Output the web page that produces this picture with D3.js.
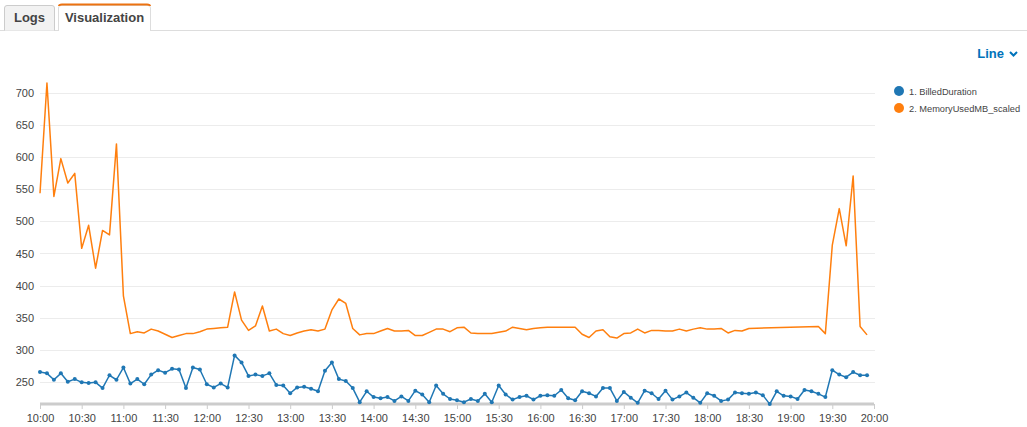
<!DOCTYPE html>
<html>
  <head>
    <meta charset="utf-8">
    <style>
      body { margin: 0; background: #fff; }
      svg text { font-family: "Liberation Sans", Arial, sans-serif; }
      .grid line { stroke: #ececec; stroke-width: 1px; }
      .yaxis text, .xaxis text { fill: #444; font-size: 11px; }
      .legend text { fill: #444; font-size: 11px; }
    </style>
  </head>
  <body>
    <svg width="1027" height="427"></svg>
    <script src="https://d3js.org/d3.v7.min.js"></script>
    <script>
      // samples every 5 minutes from 10:00 to 19:55
      var startTime = new Date(2023, 0, 1, 10, 0);
      var endTime = new Date(2023, 0, 1, 20, 0);
      var stepMinutes = 5;

      var seriesNames = ["1. BilledDuration", "2. MemoryUsedMB_scaled"];
      var seriesColors = ["#1f77b4", "#ff7f0e"];
      var yTicks = [250, 300, 350, 400, 450, 500, 550, 600, 650, 700];

      var billedDuration = [
        265, 263, 253, 263, 250, 254, 249, 248, 249, 240,
        260, 253, 272, 247, 254, 246, 261, 268, 264, 270,
        269, 240, 272, 269, 246, 241, 247, 241, 291, 280,
        259, 261, 259, 263, 245, 244, 232, 241, 242, 239,
        235, 267, 280, 254, 251, 240, 218, 235, 226, 224,
        226, 220, 227, 220, 236, 230, 218, 244, 231, 223,
        221, 218, 223, 220, 231, 218, 244, 230, 222, 226,
        228, 222, 228, 229, 228, 237, 224, 221, 235, 232,
        227, 240, 240, 220, 234, 225, 217, 236, 232, 223,
        236, 222, 227, 233, 225, 217, 232, 228, 220, 222,
        233, 232, 231, 233, 229, 215, 235, 228, 227, 223,
        237, 235, 231, 226, 268, 261, 257, 265, 260, 260
      ];

      var memoryUsedScaled = [
        544, 716, 539, 598, 560, 575, 458, 494, 427, 486,
        479, 621, 384, 325, 328, 326, 332, 329, 324, 319,
        322, 325, 325, 328, 332, 333, 334, 335, 390, 346,
        330, 337, 368, 329, 332, 325, 322, 326, 329, 331,
        329, 332, 362, 379, 372, 333, 323, 325, 325, 329,
        333, 329, 329, 330, 322, 322, 327, 332, 332, 328,
        334, 335, 326, 325, 325, 325, 327, 329, 335, 333,
        331, 333, 334, 335, 335, 335, 335, 335, 324, 319,
        329, 331, 320, 318, 325, 326, 332, 326, 330, 330,
        329, 329, 332, 329, 332, 334, 332, 332, 333, 326,
        330, 329, 333, null, null, null, null, null, null, null,
        null, null, 336, 325, 463, 520, 462, 571, 336, 323
      ];

      var svg = d3.select("svg");

      // tabs
      var tabs = svg.append("g");
      tabs.append("line")
        .attr("x1", 0).attr("x2", 1027).attr("y1", 30.5).attr("y2", 30.5)
        .attr("stroke", "#ddd");
      tabs.append("path")
        .attr("d", "M4.5,30.5 V8 Q4.5,5.5 7,5.5 H52 Q54.5,5.5 54.5,8 V30.5")
        .attr("fill", "#f2f2f2").attr("stroke", "#ccc");
      tabs.append("path")
        .attr("d", "M58.5,31 V8 Q58.5,5.5 61,5.5 H148 Q150.5,5.5 150.5,8 V31")
        .attr("fill", "#fff").attr("stroke", "#ddd");
      tabs.append("path")
        .attr("d", "M59,6 Q59,4.5 62,4.5 H147 Q150,4.5 150,6")
        .attr("fill", "none").attr("stroke", "#ec7211").attr("stroke-width", 2);
      tabs.append("text").attr("x", 29.5).attr("y", 22).attr("text-anchor", "middle")
        .attr("font-size", "13px").attr("font-weight", "bold").attr("fill", "#444")
        .text("Logs");
      tabs.append("text").attr("x", 104.5).attr("y", 22).attr("text-anchor", "middle")
        .attr("font-size", "13px").attr("font-weight", "bold").attr("fill", "#444")
        .text("Visualization");

      // "Line" dropdown
      svg.append("text").attr("x", 1004).attr("y", 58).attr("text-anchor", "end")
        .attr("font-size", "13px").attr("font-weight", "bold").attr("fill", "#0073bb")
        .text("Line");
      svg.append("path").attr("d", "M1010,52 L1013.5,55.5 L1017,52")
        .attr("fill", "none").attr("stroke", "#0073bb").attr("stroke-width", 2);

      var x = d3.scaleTime().domain([startTime, endTime]).range([40, 874]);
      var y = d3.scaleLinear().domain([214.7, 716]).range([404.3, 83]);

      function timeAt(i) { return d3.timeMinute.offset(startTime, i * stepMinutes); }

      // grid
      svg.append("g").attr("class", "grid")
        .selectAll("line").data(yTicks).enter().append("line")
        .attr("x1", 40).attr("x2", 875)
        .attr("y1", function(d) { return Math.round(y(d)) + 0.5; })
        .attr("y2", function(d) { return Math.round(y(d)) + 0.5; });

      // y axis labels
      var yAxis = svg.append("g").attr("class", "yaxis")
        .attr("transform", "translate(34,0)")
        .call(d3.axisLeft(y).tickValues(yTicks).tickSize(0).tickPadding(0));
      yAxis.select(".domain").remove();

      // x axis
      var xAxis = svg.append("g").attr("class", "xaxis")
        .attr("transform", "translate(0,404)")
        .call(d3.axisBottom(x).ticks(d3.timeMinute.every(30))
          .tickFormat(d3.timeFormat("%H:%M")).tickSize(5).tickPadding(5));
      xAxis.select(".domain").attr("stroke", "#ccc").attr("stroke-width", 3)
        .attr("d", "M40,0H874");
      xAxis.selectAll(".tick line").attr("stroke", "#ccc");

      // lines
      var memPoints = memoryUsedScaled.map(function(d, i) { return { v: d, i: i }; })
        .filter(function(d) { return d.v != null; });
      svg.append("path")
        .datum(memPoints)
        .attr("fill", "none").attr("stroke", seriesColors[1]).attr("stroke-width", 1.5)
        .attr("stroke-linejoin", "round")
        .attr("d", d3.line()
          .x(function(d) { return x(timeAt(d.i)); })
          .y(function(d) { return y(d.v); }));

      svg.append("path")
        .datum(billedDuration)
        .attr("fill", "none").attr("stroke", seriesColors[0]).attr("stroke-width", 1.5)
        .attr("stroke-linejoin", "round")
        .attr("d", d3.line()
          .x(function(d, i) { return x(timeAt(i)); })
          .y(function(d) { return y(d); }));

      svg.append("g").selectAll("circle").data(billedDuration).enter().append("circle")
        .attr("cx", function(d, i) { return x(timeAt(i)); })
        .attr("cy", function(d) { return y(d); })
        .attr("r", 2)
        .attr("fill", seriesColors[0]);

      // legend
      var legend = svg.append("g").attr("class", "legend")
        .selectAll("g").data(seriesNames).enter().append("g")
        .attr("transform", function(d, i) { return "translate(899," + (91 + i * 17) + ")"; });
      legend.append("circle").attr("r", 5)
        .attr("fill", function(d, i) { return seriesColors[i]; });
      var legendText = legend.append("text").attr("x", 10).attr("y", 4)
        .text(function(d) { return d; });

      // shrink the legend labels until the longest fits before the right edge
      var fs = 11;
      while (fs > 8 && d3.max(legendText.nodes(), function(n) { return n.getComputedTextLength(); }) > 114) {
        fs -= 0.25;
        legendText.style("font-size", fs + "px");
      }
    </script>
  </body>
</html>
